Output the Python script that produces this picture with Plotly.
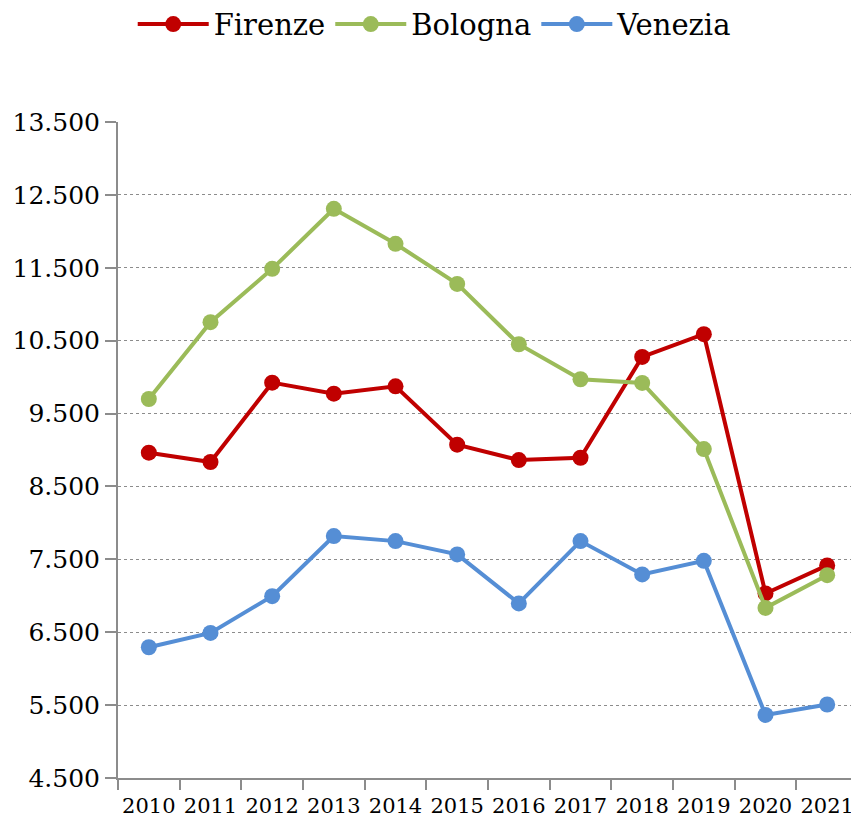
import plotly.graph_objects as go

years = ["2010", "2011", "2012", "2013", "2014", "2015", "2016", "2017", "2018", "2019", "2020", "2021"]
firenze = [8963, 8835, 9924, 9773, 9874, 9073, 8862, 8894, 10277, 10589, 7032, 7417]
bologna = [9700, 10754, 11485, 12309, 11829, 11279, 10451, 9971, 9920, 9013, 6834, 7283]
venezia = [6294, 6491, 6995, 7819, 7750, 7568, 6895, 7750, 7293, 7480, 5365, 5508]

series = [("Firenze", firenze, "#C00000"), ("Bologna", bologna, "#9BBB59"), ("Venezia", venezia, "#558ED5")]

FONT = "'DejaVu Serif', 'Liberation Serif', serif"

fig = go.Figure()
for name, vals, col in series:
    fig.add_trace(go.Scatter(
        x=years, y=vals, name=name, mode="lines+markers",
        line=dict(color=col, width=4),
        marker=dict(color=col, size=16),
    ))

# page has an 8px body margin, so the figure is sized/offset to compensate
fig.update_layout(
    width=851, height=812,
    margin=dict(l=110, r=1, t=114, b=42, autoexpand=False),
    paper_bgcolor="white", plot_bgcolor="white",
    separators=",.",
    font=dict(family=FONT, color="black"),
    showlegend=True,
    legend=dict(orientation="h", x=0.428, xanchor="center", y=1.149, yanchor="middle",
                font=dict(size=29, family=FONT, color="black"), itemwidth=71,
                bgcolor="rgba(0,0,0,0)"),
    xaxis=dict(
        type="category", range=[-0.5, 11.5], tickson="boundaries",
        ticks="outside", ticklen=10, tickwidth=2, tickcolor="#8c8c8c",
        showline=True, linecolor="#8c8c8c", linewidth=2, tickangle=0, automargin=False,
        ticklabelstandoff=8,
        showgrid=False, tickfont=dict(size=21, family=FONT, color="black"),
    ),
    yaxis=dict(
        range=[4500, 13500], tick0=4500, dtick=1000, tickformat=",.0f",
        ticks="outside", ticklen=11, tickwidth=2, tickcolor="#8c8c8c",
        showline=True, linecolor="#8c8c8c", linewidth=2, automargin=False,
        showgrid=True, gridcolor="#8c8c8c", gridwidth=1, griddash="dot",
        zeroline=False, tickfont=dict(size=25, family=FONT, color="black"),
    ),
)

fig.write_html("out.html")
